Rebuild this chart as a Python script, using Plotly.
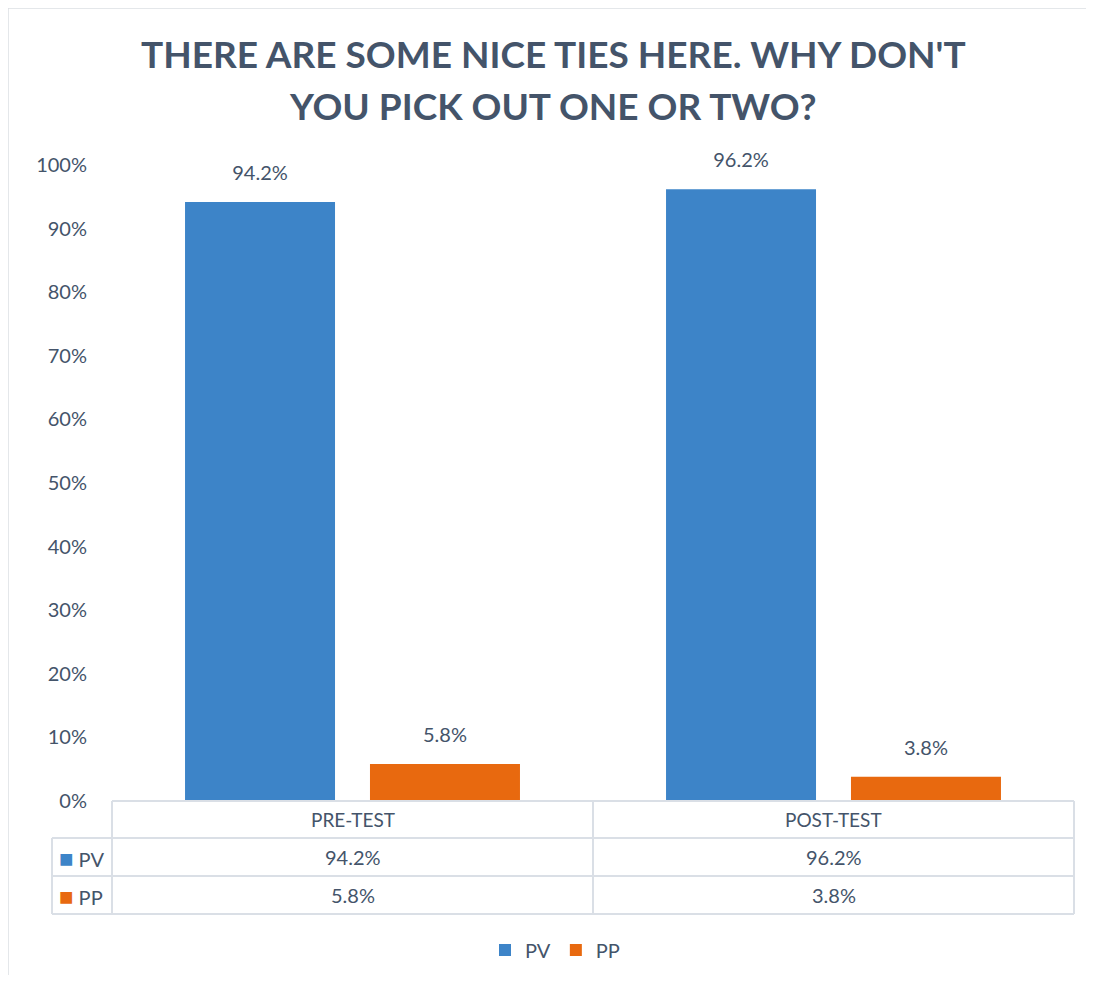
import plotly.graph_objects as go

categories = ["PRE-TEST", "POST-TEST"]
series_names = ["PV", "PP"]
pv_values = [0.942, 0.962]
pp_values = [0.058, 0.038]
tick_vals = [0, 0.1, 0.2, 0.3, 0.4, 0.5, 0.6, 0.7, 0.8, 0.9, 1.0]
title_lines = ["THERE ARE SOME NICE TIES HERE. WHY DON'T", "YOU PICK OUT ONE OR TWO?"]

colors = {"PV": "#3d84c8", "PP": "#e8690f"}
text_color = "#44546a"
grid_color = "#dadfe6"
FONT = "Lato"

# page offset introduced by the default body margin
OFF = 8
PLOT_L, PLOT_R, PLOT_T, PLOT_B = 112, 1074, 165, 801  # page pixel coords of plot area
PW = PLOT_R - PLOT_L
PH = PLOT_B - PLOT_T
W = 1094 - 2 * OFF
H = 983 - 2 * OFF
ML = PLOT_L - OFF
MT = PLOT_T - OFF
MR = W - ML - PW
MB = H - MT - PH
BARGAP = 0.231

def px_x(px):
    return (px - PLOT_L) / PW

def px_y(py):
    return (PLOT_B - py) / PH

fig = go.Figure()
for name, vals in [("PV", pv_values), ("PP", pp_values)]:
    fig.add_trace(go.Bar(
        x=categories, y=vals, name=name,
        marker=dict(color=colors[name], line=dict(width=0)),
        hovertemplate="%{x}: %{y:.1%}<extra>" + name + "</extra>",
    ))
# value labels above the bars (grouped scatter aligned with the bars)
for name, vals in [("PV", pv_values), ("PP", pp_values)]:
    fig.add_trace(go.Scatter(
        x=categories, y=vals, name=name, showlegend=False,
        mode="markers+text",
        marker=dict(size=26, opacity=0),
        text=[f"{v*100:.1f}%" for v in vals],
        textposition="top center",
        textfont=dict(family=FONT, size=20, color=text_color),
        cliponaxis=False, hoverinfo="skip",
    ))

shapes = []
line = dict(color=grid_color, width=2)
# outer chart border (left and top visible)
shapes.append(dict(type="rect", xref="paper", yref="paper",
                   x0=px_x(8), x1=px_x(1120), y0=px_y(1010), y1=px_y(8),
                   line=dict(color="#dcdfe4", width=1.5), layer="below"))
# data table lines
r0, r1, r2, r3 = px_y(801), px_y(838), px_y(876), px_y(914)
x_left = px_x(52)
shapes.append(dict(type="line", xref="paper", yref="paper", x0=0, x1=1, y0=r0, y1=r0, line=line))
for ry in (r1, r2, r3):
    shapes.append(dict(type="line", xref="paper", yref="paper", x0=x_left, x1=1, y0=ry, y1=ry, line=line))
for i in range(len(categories) + 1):
    xv = i / len(categories)
    shapes.append(dict(type="line", xref="paper", yref="paper", x0=xv, x1=xv, y0=r0, y1=r3, line=line))
shapes.append(dict(type="line", xref="paper", yref="paper", x0=x_left, x1=x_left, y0=r1, y1=r3, line=line))

annotations = []
# title
for txt, cy in zip(title_lines, [54, 106]):
    annotations.append(dict(text=f"<b>{txt}</b>", xref="paper", yref="paper",
                            x=px_x(553), y=px_y(cy), xanchor="center", yanchor="middle",
                            showarrow=False, font=dict(family=FONT, size=37, color=text_color)))
# table header
for i, cat in enumerate(categories):
    cx = (i + 0.5) / len(categories)
    annotations.append(dict(text=cat, xref="paper", yref="paper", x=cx, y=(r0 + r1) / 2,
                            xanchor="center", yanchor="middle", showarrow=False,
                            font=dict(family=FONT, size=19, color=text_color)))
# table rows
for name, vals, ry in [("PV", pv_values, (r1 + r2) / 2), ("PP", pp_values, (r2 + r3) / 2)]:
    annotations.append(dict(text=f"<span style='color:{colors[name]};font-size:24px'>■</span> {name}",
                            xref="paper", yref="paper", x=px_x(57), y=ry,
                            xanchor="left", yanchor="middle", showarrow=False,
                            font=dict(family=FONT, size=20, color=text_color)))
    for i, v in enumerate(vals):
        cx = (i + 0.5) / len(categories)
        annotations.append(dict(text=f"{v*100:.1f}%", xref="paper", yref="paper", x=cx, y=ry,
                                xanchor="center", yanchor="middle", showarrow=False,
                                font=dict(family=FONT, size=20, color=text_color)))

fig.update_layout(
    width=W, height=H,
    margin=dict(l=ML, r=MR, t=MT, b=MB, autoexpand=False),
    paper_bgcolor="white", plot_bgcolor="white",
    barmode="group", bargap=BARGAP, bargroupgap=0.189,
    scattermode="group", scattergap=BARGAP,
    font=dict(family=FONT, color=text_color),
    xaxis=dict(showticklabels=False, showline=False, showgrid=False, zeroline=False, ticks=""),
    yaxis=dict(range=[0, 1], tickvals=tick_vals, tickformat=".0%", showgrid=False,
               zeroline=False, showline=False, ticks="", ticklabelstandoff=24,
               tickfont=dict(family=FONT, size=20, color=text_color)),
    legend=dict(orientation="h", x=px_x(555), y=px_y(950), xanchor="center", yanchor="middle",
                font=dict(family=FONT, size=20, color=text_color), itemwidth=30),
    shapes=shapes,
    annotations=annotations,
)

fig.write_html("out.html")
